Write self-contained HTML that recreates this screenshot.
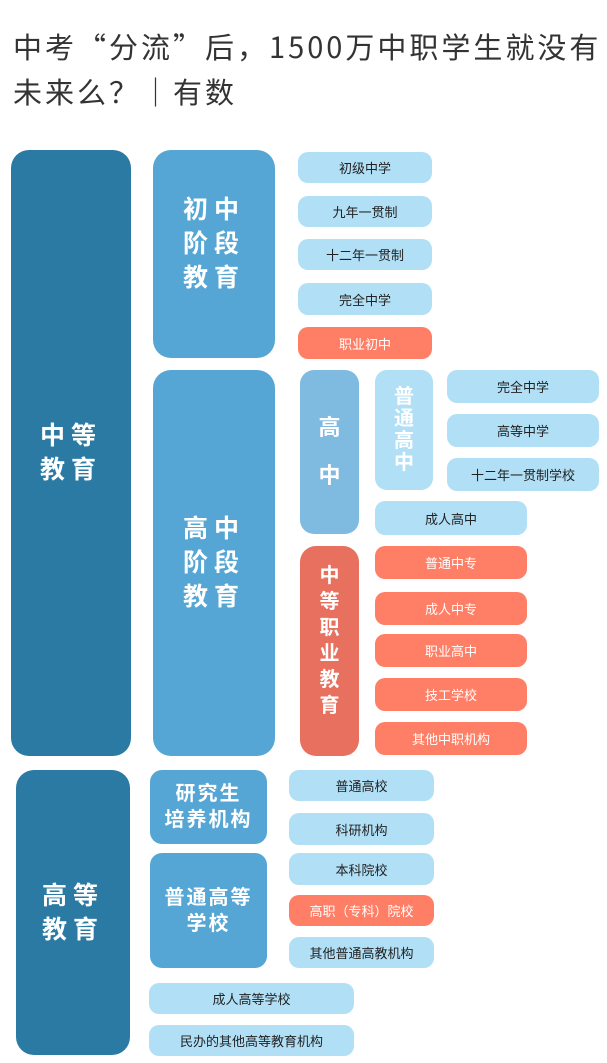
<!DOCTYPE html>
<html><head><meta charset="utf-8"><style>
*{margin:0;padding:0;box-sizing:border-box}
body{width:607px;height:1063px;background:#fff;position:relative;overflow:hidden;font-family:"Liberation Sans","Noto Sans CJK SC",sans-serif}
.t{position:absolute;left:13px;font-family:"Noto Sans CJK SC",sans-serif;font-size:29px;color:#333;line-height:44px;letter-spacing:3px;white-space:nowrap}
.b{position:absolute;display:flex;align-items:center;justify-content:center;text-align:center}
.d{background:#2a7aa3;border-radius:18px;color:#fff;font-weight:bold;font-size:25px;line-height:34px;letter-spacing:6px}
.m{background:#55a6d4;border-radius:18px;color:#fff;font-weight:bold;font-size:25px;line-height:34px;letter-spacing:6px}
.l{background:#b1dff5;border-radius:10px;color:#222;font-size:13px}
.r{background:#ff7e66;border-radius:10px;color:#fff;font-size:13px}
.v{font-weight:bold;color:#fff;font-size:20px;line-height:24px}
</style></head><body>
<div class="t" style="top:24px">中考“分流”后，1500万中职学生就没有</div>
<div class="t" style="top:69px">未来么？｜有数</div>

<div class="b d" style="left:11px;top:150px;width:120px;height:606px">中等<br>教育</div>
<div class="b m" style="left:153px;top:150px;width:122px;height:208px;padding-bottom:20px">初中<br>阶段<br>教育</div>
<div class="b l" style="left:298px;top:152px;width:134px;height:31px">初级中学</div>
<div class="b l" style="left:298px;top:196px;width:134px;height:31px">九年一贯制</div>
<div class="b l" style="left:298px;top:239px;width:134px;height:31px">十二年一贯制</div>
<div class="b l" style="left:298px;top:283px;width:134px;height:32px">完全中学</div>
<div class="b r" style="left:298px;top:327px;width:134px;height:32px">职业初中</div>

<div class="b m" style="left:153px;top:370px;width:122px;height:386px">高中<br>阶段<br>教育</div>
<div class="b v" style="left:300px;top:370px;width:59px;height:164px;background:#7fbbe0;border-radius:14px;font-size:22px;line-height:48px">高<br>中</div>
<div class="b v" style="left:375px;top:370px;width:58px;height:120px;background:#b1dff5;border-radius:12px;line-height:22px">普<br>通<br>高<br>中</div>
<div class="b l" style="left:447px;top:370px;width:152px;height:33px">完全中学</div>
<div class="b l" style="left:447px;top:414px;width:152px;height:33px">高等中学</div>
<div class="b l" style="left:447px;top:458px;width:152px;height:33px">十二年一贯制学校</div>
<div class="b l" style="left:375px;top:501px;width:152px;height:34px">成人高中</div>

<div class="b v" style="left:300px;top:546px;width:59px;height:210px;background:#e8705f;border-radius:16px;padding-bottom:20px;line-height:26px">中<br>等<br>职<br>业<br>教<br>育</div>
<div class="b r" style="left:375px;top:546px;width:152px;height:33px">普通中专</div>
<div class="b r" style="left:375px;top:592px;width:152px;height:33px">成人中专</div>
<div class="b r" style="left:375px;top:634px;width:152px;height:33px">职业高中</div>
<div class="b r" style="left:375px;top:678px;width:152px;height:33px">技工学校</div>
<div class="b r" style="left:375px;top:722px;width:152px;height:33px">其他中职机构</div>

<div class="b d" style="left:16px;top:770px;width:114px;height:285px">高等<br>教育</div>
<div class="b m" style="left:150px;top:770px;width:117px;height:74px;font-size:20px;line-height:26px;letter-spacing:2px;border-radius:12px">研究生<br>培养机构</div>
<div class="b m" style="left:150px;top:853px;width:117px;height:115px;font-size:20px;line-height:26px;letter-spacing:2px;border-radius:12px">普通高等<br>学校</div>
<div class="b l" style="left:289px;top:770px;width:145px;height:31px">普通高校</div>
<div class="b l" style="left:289px;top:813px;width:145px;height:32px">科研机构</div>
<div class="b l" style="left:289px;top:853px;width:145px;height:32px">本科院校</div>
<div class="b r" style="left:289px;top:895px;width:145px;height:31px">高职（专科）院校</div>
<div class="b l" style="left:289px;top:937px;width:145px;height:31px">其他普通高教机构</div>
<div class="b l" style="left:149px;top:983px;width:205px;height:31px">成人高等学校</div>
<div class="b l" style="left:149px;top:1025px;width:205px;height:31px">民办的其他高等教育机构</div>
</body></html>
